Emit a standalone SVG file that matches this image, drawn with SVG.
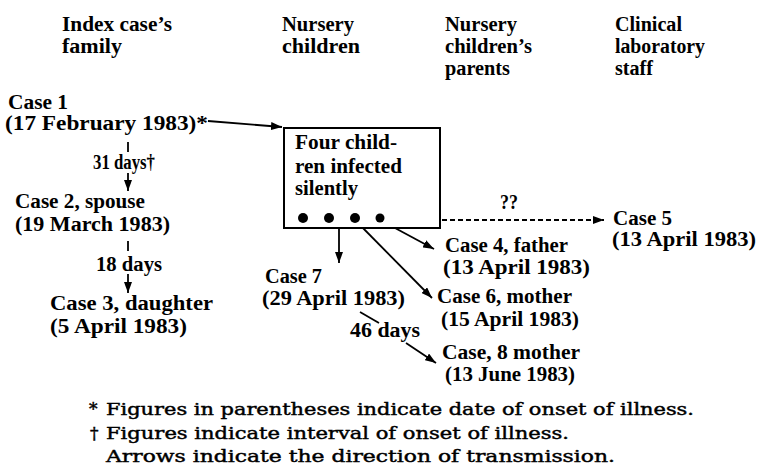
<svg xmlns="http://www.w3.org/2000/svg" width="758" height="476" viewBox="0 0 758 476">
<style>
.t{font-family:"Liberation Serif","Times New Roman",serif;font-size:20px;font-weight:bold;fill:#000}
.f{font-family:"DejaVu Serif","Liberation Serif",serif;font-size:17px;fill:#000;stroke:#000;stroke-width:0.45}
.ln{stroke:#000;stroke-width:1.8;fill:none}
.ar{stroke:#000;stroke-width:1.8;fill:none;marker-end:url(#ah)}
.da{stroke:#000;stroke-width:2;fill:none;stroke-dasharray:5 3;marker-end:url(#ah)}
.box{fill:#fff;stroke:#000;stroke-width:2}
</style>
<defs>
<marker id="ah" markerUnits="userSpaceOnUse" markerWidth="12" markerHeight="8" refX="11" refY="4" orient="auto">
<path d="M0,0 L11,4 L0,8 z" fill="#000"/>
</marker>
</defs>
<rect width="758" height="476" fill="#fff"/>
<g id="headers">
<text class="t" x="62" y="31" textLength="110" lengthAdjust="spacingAndGlyphs">Index case’s</text>
<text class="t" x="62" y="53" textLength="60" lengthAdjust="spacingAndGlyphs">family</text>
<text class="t" x="282" y="31" textLength="72" lengthAdjust="spacingAndGlyphs">Nursery</text>
<text class="t" x="282" y="53" textLength="78" lengthAdjust="spacingAndGlyphs">children</text>
<text class="t" x="445" y="31" textLength="72" lengthAdjust="spacingAndGlyphs">Nursery</text>
<text class="t" x="445" y="53" textLength="87" lengthAdjust="spacingAndGlyphs">children’s</text>
<text class="t" x="445" y="75" textLength="65" lengthAdjust="spacingAndGlyphs">parents</text>
<text class="t" x="615" y="31" textLength="67" lengthAdjust="spacingAndGlyphs">Clinical</text>
<text class="t" x="615" y="53" textLength="90" lengthAdjust="spacingAndGlyphs">laboratory</text>
<text class="t" x="615" y="75" textLength="38" lengthAdjust="spacingAndGlyphs">staff</text>
</g>
<g id="connectors">
<line class="ar" x1="208" y1="121" x2="282" y2="127"/>
<line class="ln" x1="128" y1="142" x2="128" y2="152"/>
<line class="ar" x1="128" y1="173" x2="128" y2="191"/>
<line class="ln" x1="128" y1="241" x2="128" y2="251"/>
<line class="ar" x1="128" y1="274" x2="128" y2="293"/>
<line class="ar" x1="339" y1="228" x2="339" y2="263"/>
<line class="ar" x1="382" y1="221" x2="434" y2="249"/>
<line class="ar" x1="357" y1="222" x2="432" y2="298"/>
<line class="da" x1="386" y1="220" x2="604" y2="220"/>
<line class="ln" x1="360" y1="312" x2="379" y2="323"/>
<line class="ar" x1="406" y1="343" x2="436" y2="363"/>
</g>
<g id="case1">
<text class="t" x="8" y="109" textLength="60" lengthAdjust="spacingAndGlyphs">Case 1</text>
<text class="t" x="5" y="130" textLength="203" lengthAdjust="spacingAndGlyphs">(17 February 1983)*</text>
</g>
<g id="interval1"><text class="t" x="93" y="169" textLength="62" lengthAdjust="spacingAndGlyphs">31 days†</text></g>
<g id="case2">
<text class="t" x="15" y="208" textLength="130" lengthAdjust="spacingAndGlyphs">Case 2, spouse</text>
<text class="t" x="15" y="231" textLength="155" lengthAdjust="spacingAndGlyphs">(19 March 1983)</text>
</g>
<g id="interval2"><text class="t" x="96" y="271" textLength="66" lengthAdjust="spacingAndGlyphs">18 days</text></g>
<g id="case3">
<text class="t" x="50" y="310" textLength="163" lengthAdjust="spacingAndGlyphs">Case 3, daughter</text>
<text class="t" x="50" y="333" textLength="137" lengthAdjust="spacingAndGlyphs">(5 April 1983)</text>
</g>
<g id="nursery-box">
<rect class="box" x="284" y="128" width="156" height="100"/>
<text class="t" x="295" y="149" textLength="102" lengthAdjust="spacingAndGlyphs">Four child-</text>
<text class="t" x="295" y="173" textLength="107" lengthAdjust="spacingAndGlyphs">ren infected</text>
<text class="t" x="295" y="195" textLength="63" lengthAdjust="spacingAndGlyphs">silently</text>
<circle cx="303" cy="218" r="5"/>
<circle cx="329" cy="218" r="5"/>
<circle cx="355" cy="218" r="5"/>
<circle cx="380" cy="218" r="4.5"/>
</g>
<g id="unknown-label"><text class="t" x="500" y="209" textLength="18" lengthAdjust="spacingAndGlyphs">??</text></g>
<g id="case5">
<text class="t" x="613" y="225" textLength="59" lengthAdjust="spacingAndGlyphs">Case 5</text>
<text class="t" x="612" y="246" textLength="144" lengthAdjust="spacingAndGlyphs">(13 April 1983)</text>
</g>
<g id="case4">
<text class="t" x="445" y="252" textLength="123" lengthAdjust="spacingAndGlyphs">Case 4, father</text>
<text class="t" x="443" y="274" textLength="147" lengthAdjust="spacingAndGlyphs">(13 April 1983)</text>
</g>
<g id="case6">
<text class="t" x="437" y="303" textLength="135" lengthAdjust="spacingAndGlyphs">Case 6, mother</text>
<text class="t" x="441" y="326" textLength="138" lengthAdjust="spacingAndGlyphs">(15 April 1983)</text>
</g>
<g id="case7">
<text class="t" x="265" y="283" textLength="57" lengthAdjust="spacingAndGlyphs">Case 7</text>
<text class="t" x="262" y="305" textLength="143" lengthAdjust="spacingAndGlyphs">(29 April 1983)</text>
</g>
<g id="interval3"><text class="t" x="350" y="337" textLength="70" lengthAdjust="spacingAndGlyphs">46 days</text></g>
<g id="case8">
<text class="t" x="442" y="359" textLength="138" lengthAdjust="spacingAndGlyphs">Case, 8 mother</text>
<text class="t" x="445" y="381" textLength="130" lengthAdjust="spacingAndGlyphs">(13 June 1983)</text>
</g>
<g id="footnotes">
<text class="f" x="89" y="415">*</text>
<text class="f" x="106" y="415" textLength="588" lengthAdjust="spacingAndGlyphs">Figures in parentheses indicate date of onset of illness.</text>
<text class="f" x="90" y="439">†</text>
<text class="f" x="106" y="439" textLength="463" lengthAdjust="spacingAndGlyphs">Figures indicate interval of onset of illness.</text>
<text class="f" x="106" y="462" textLength="509" lengthAdjust="spacingAndGlyphs">Arrows indicate the direction of transmission.</text>
</g>
</svg>
